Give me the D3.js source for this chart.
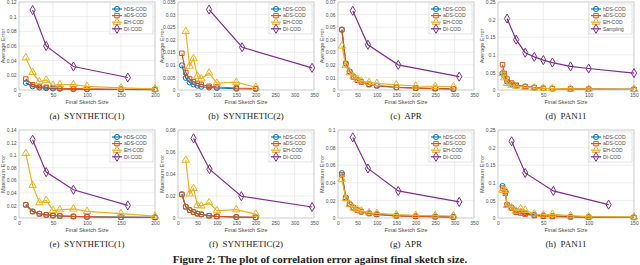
<!DOCTYPE html>
<html>
<head>
<meta charset="utf-8">
<script src="https://cdn.jsdelivr.net/npm/d3@7"></script>
<style>
  body { margin: 0; background: #fff; }
  svg { display: block; }
  .tick text { font-family: "Liberation Sans", Arial, sans-serif; }
</style>
</head>
<body>
<svg id="fig" width="640" height="265"></svg>
<script>
// ---- data ----
const seriesNames = ["hDS-COD", "aDS-COD", "EH-COD", "DI-COD"];
const panD_names = ["hDS-COD", "aDS-COD", "EH-COD", "Sampling"];
const captions = ["(a)  SYNTHETIC(1)", "(b)  SYNTHETIC(2)", "(c)  APR", "(d)  PAN11",
                  "(e)  SYNTHETIC(1)", "(f)  SYNTHETIC(2)", "(g)  APR", "(h)  PAN11"];

// (a) SYNTHETIC(1) average error
const synth1X = [10, 20, 30, 40, 50, 60, 80, 100, 150, 200];
const synth1DiX = [20, 40, 80, 160];
const aHds = [0.0097, 0.005, 0.0033, 0.0025, 0.002, 0.0016, 0.0012, 0.001, 0.0007, 0.0005];
const aAds = [0.015, 0.0073, 0.0047, 0.0036, 0.0029, 0.0024, 0.0019, 0.0015, 0.001, 0.0008];
const aEh  = [0.044, 0.024, 0.0113, 0.0136, 0.0063, 0.0072, 0.0072, 0.005, 0.003, 0.0014];
const aDi  = [0.109, 0.060, 0.032, 0.017];

// (b) SYNTHETIC(2) average error
const synth2X = [10, 20, 30, 40, 50, 60, 80, 100, 150, 200];
const synth2DiX = [80, 165, 345];
const bHds = [0.0098, 0.0048, 0.003, 0.0022, 0.0017, 0.0013, 0.001, 0.0008, 0.0005, 0.0004];
const bAds = [0.0146, 0.007, 0.0044, 0.0033, 0.0026, 0.0022, 0.0015, 0.0012, 0.0008, 0.0006];
const bEh  = [null, 0.0233, 0.0095, 0.0125, 0.0055, 0.0045, 0.0068, 0.0027, 0.0031, 0.0011];
const bDi  = [0.032, 0.017, 0.0088];

// (c) APR average error
const aprX = [10, 20, 30, 40, 50, 60, 80, 100, 150, 200, 250, 297];
const aprDiX = [38, 77, 155, 312];
const cHds = [0.048, 0.021, 0.0148, 0.0105, 0.008, 0.0066, 0.0045, 0.0035, 0.0022, 0.0016, 0.0012, 0.0009];
const cAds = [0.048, 0.021, 0.0145, 0.0102, 0.0077, 0.0063, 0.0043, 0.0034, 0.002, 0.0015, 0.0011, 0.0008];
const cEh  = [0.035, 0.0195, 0.0137, 0.0106, 0.0085, 0.0071, 0.006, 0.0053, 0.004, 0.0032, 0.0029, 0.0026];
const cDi  = [0.063, 0.036, 0.020, 0.0106];

// (d) PAN11 average error
const panX = [5, 7, 10, 15, 20, 30, 40, 50, 60, 80, 100, 150];
const panSampX = [10, 20, 30, 40, 50, 60, 80, 100, 150];
const dHds = [0.048, 0.04, 0.024, 0.016, 0.012, 0.009, 0.007, 0.005, 0.004, 0.003, 0.0025, 0.002];
const dAds = [0.072, 0.047, 0.031, 0.02, 0.014, 0.01, 0.007, 0.005, 0.004, 0.003, 0.0025, 0.0015];
const dEh  = [0.047, 0.035, 0.019, 0.014, 0.011, 0.008, 0.006, 0.005, 0.004, 0.003, 0.0025, 0.002];
const dSamp = [0.203, 0.143, 0.106, 0.094, 0.085, 0.078, 0.067, 0.061, 0.048];

// (e) SYNTHETIC(1) maximum error
const eHds = [0.021, 0.0105, 0.0068, 0.005, 0.004, 0.0033, 0.0025, 0.002, 0.0013, 0.001];
const eAds = [0.021, 0.0103, 0.0066, 0.0049, 0.0039, 0.0032, 0.0024, 0.0019, 0.0012, 0.0009];
const eEh  = [0.1027, 0.052, 0.0245, 0.028, 0.012, 0.013, 0.0144, 0.0106, 0.007, 0.003];
const eDi  = [0.1245, 0.073, 0.045, 0.020];

// (f) SYNTHETIC(2) maximum error
const synth2MaxDiX = [40, 81, 163, 345];
const fHds = [0.0216, 0.0103, 0.0073, 0.0055, 0.004, 0.0033, 0.0021, 0.0015, 0.0009, 0.0006];
const fAds = [0.0214, 0.0101, 0.0071, 0.0053, 0.0039, 0.0032, 0.002, 0.0014, 0.0008, 0.0005];
const fEh  = [null, 0.0526, 0.022, 0.0268, 0.0116, 0.011, 0.014, 0.0067, 0.0076, 0.0036];
const fDi  = [0.0724, 0.0444, 0.0198, 0.010];

// (g) APR maximum error
const gHds = [0.051, 0.0232, 0.016, 0.0118, 0.0091, 0.0072, 0.0053, 0.0042, 0.0027, 0.0019, 0.0015, 0.0011];
const gAds = [0.049, 0.0228, 0.0156, 0.0114, 0.0088, 0.007, 0.0051, 0.004, 0.0025, 0.0018, 0.0014, 0.001];
const gEh  = [0.044, 0.022, 0.0152, 0.0114, 0.0095, 0.008, 0.0061, 0.0053, 0.0038, 0.003, 0.0027, 0.0023];
const gDi  = [0.0916, 0.0563, 0.0308, 0.0183];

// (h) PAN11 maximum error
const panMaxX = [5, 8, 10, 15, 20, 25, 30, 40, 50, 60, 80, 100, 150];
const panMaxDiX = [15, 30, 61, 122];
const hHds = [0.091, 0.075, 0.038, 0.03, 0.02, 0.018, 0.014, 0.009, 0.007, 0.006, 0.004, 0.003, 0.002];
const hAds = [0.085, 0.07, 0.037, 0.028, 0.016, 0.014, 0.011, 0.007, 0.005, 0.004, 0.003, 0.002, 0.0015];
const hEh  = [0.079, 0.079, 0.036, 0.029, 0.02, 0.0266, 0.022, 0.012, 0.0085, 0.0105, 0.0067, 0.0038, 0.0029];
const hDi  = [0.218, 0.128, 0.077, 0.038];

// axis ticks
const yTicksA = [0, 0.02, 0.04, 0.06, 0.08, 0.1, 0.12];
const yTicksB = [0, 0.005, 0.01, 0.015, 0.02, 0.025, 0.03, 0.035];
const yTicksC = [0, 0.01, 0.02, 0.03, 0.04, 0.05, 0.06, 0.07];
const yTicksD = [0, 0.05, 0.1, 0.15, 0.2, 0.25];
const yTicksE = [0, 0.02, 0.04, 0.06, 0.08, 0.1, 0.12, 0.14];
const yTicksF = [0, 0.02, 0.04, 0.06, 0.08];
const yTicksG = [0, 0.02, 0.04, 0.06, 0.08, 0.1];
const xTicks200 = [0, 50, 100, 150, 200];
const xTicks350 = [0, 50, 100, 150, 200, 250, 300, 350];
const xTicks150 = [0, 50, 100, 150];

const colors = ["#0072BD", "#D95319", "#EDB120", "#7E2F8E"];
const symbols = [d3.symbolCircle, d3.symbolSquare, d3.symbolTriangle, d3.symbolDiamond];
const symSizes = [20, 20, 24, 24];

// build panel table from the arrays
const zip = (xs, ys) => xs.map((x, i) => [x, ys[i]]).filter(p => p[1] != null);
const panels = [
  { yLabel: "Average Error", xMax: 200, xTicks: xTicks200, yTicks: yTicksA, names: seriesNames,
    series: [zip(synth1X, aHds), zip(synth1X, aAds), zip(synth1X, aEh), zip(synth1DiX, aDi)] },
  { yLabel: "Average Error", xMax: 350, xTicks: xTicks350, yTicks: yTicksB, names: seriesNames,
    series: [zip(synth2X, bHds), zip(synth2X, bAds), zip(synth2X, bEh), zip(synth2DiX, bDi)] },
  { yLabel: "Average Error", xMax: 350, xTicks: xTicks350, yTicks: yTicksC, names: seriesNames,
    series: [zip(aprX, cHds), zip(aprX, cAds), zip(aprX, cEh), zip(aprDiX, cDi)] },
  { yLabel: "Average Error", xMax: 150, xTicks: xTicks150, yTicks: yTicksD, names: panD_names,
    series: [zip(panX, dHds), zip(panX, dAds), zip(panX, dEh), zip(panSampX, dSamp)] },
  { yLabel: "Maximum Error", xMax: 200, xTicks: xTicks200, yTicks: yTicksE, names: seriesNames,
    series: [zip(synth1X, eHds), zip(synth1X, eAds), zip(synth1X, eEh), zip(synth1DiX, eDi)] },
  { yLabel: "Maximum Error", xMax: 350, xTicks: xTicks350, yTicks: yTicksF, names: seriesNames,
    series: [zip(synth2X, fHds), zip(synth2X, fAds), zip(synth2X, fEh), zip(synth2MaxDiX, fDi)] },
  { yLabel: "Maximum Error", xMax: 350, xTicks: xTicks350, yTicks: yTicksG, names: seriesNames,
    series: [zip(aprX, gHds), zip(aprX, gAds), zip(aprX, gEh), zip(aprDiX, gDi)] },
  { yLabel: "Maximum Error", xMax: 150, xTicks: xTicks150, yTicks: yTicksD, names: seriesNames,
    series: [zip(panMaxX, hHds), zip(panMaxX, hAds), zip(panMaxX, hEh), zip(panMaxDiX, hDi)] }
];

// layout
const lefts = [19, 178, 338, 498];
const tops = [2, 130];
const plotW = 136, plotH = 88;

const svg = d3.select("#fig");
const fmt = d => d === 0 ? "0" : d3.format("~g")(d);

panels.forEach((p, k) => {
  const col = k % 4, row = Math.floor(k / 4);
  const g = svg.append("g").attr("transform", `translate(${lefts[col]},${tops[row]})`);

  const x = d3.scaleLinear().domain([0, p.xMax]).range([0, plotW]);
  const y = d3.scaleLinear().domain([0, d3.max(p.yTicks)]).range([plotH, 0]);

  // grid
  g.append("g").selectAll("line").data(p.xTicks).join("line")
    .attr("x1", d => x(d)).attr("x2", d => x(d)).attr("y1", 0).attr("y2", plotH)
    .attr("stroke", "#e3e3e3").attr("stroke-width", 0.6);
  g.append("g").selectAll("line").data(p.yTicks).join("line")
    .attr("y1", d => y(d)).attr("y2", d => y(d)).attr("x1", 0).attr("x2", plotW)
    .attr("stroke", "#e3e3e3").attr("stroke-width", 0.6);

  // axes
  const xAxis = g.append("g").attr("transform", `translate(0,${plotH})`)
    .call(d3.axisBottom(x).tickValues(p.xTicks).tickSize(0).tickPadding(3.5).tickFormat(d3.format("d")));
  const yAxis = g.append("g")
    .call(d3.axisLeft(y).tickValues(p.yTicks).tickSize(0).tickPadding(2.5).tickFormat(fmt));
  [xAxis, yAxis].forEach(a => {
    a.select(".domain").remove();
    a.selectAll("text").attr("font-size", 5).attr("fill", "#4d4d4d");
  });

  // box
  g.append("rect").attr("width", plotW).attr("height", plotH)
    .attr("fill", "none").attr("stroke", "#bdbdbd").attr("stroke-width", 0.6);

  // labels
  g.append("text").attr("x", plotW / 2).attr("y", plotH + 13.5)
    .attr("text-anchor", "middle").attr("font-family", "Liberation Sans, Arial, sans-serif")
    .attr("font-size", 5.6).attr("fill", "#4d4d4d").text("Final Sketch Size");
  g.append("text").attr("transform", `translate(-14.5,${plotH / 2}) rotate(-90)`)
    .attr("text-anchor", "middle").attr("font-family", "Liberation Sans, Arial, sans-serif")
    .attr("font-size", 5.6).attr("fill", "#4d4d4d").text(p.yLabel);
  g.append("text").attr("x", plotW / 2).attr("y", plotH + 28.5)
    .attr("text-anchor", "middle").attr("font-family", "Liberation Serif, Times New Roman, serif")
    .attr("font-size", 9).attr("fill", "#222").attr("xml:space", "preserve").text(captions[k]);

  // series
  const line = d3.line().x(d => x(d[0])).y(d => y(d[1]));
  p.series.forEach((s, i) => {
    g.append("path").datum(s).attr("d", line)
      .attr("fill", "none").attr("stroke", colors[i]).attr("stroke-width", 1.2);
    g.append("g").selectAll("path").data(s).join("path")
      .attr("transform", d => `translate(${x(d[0])},${y(d[1])})`)
      .attr("d", d3.symbol().type(symbols[i]).size(symSizes[i]))
      .attr("fill", "none").attr("stroke", colors[i]).attr("stroke-width", 1);
  });

  // legend
  const lg = g.append("g").attr("transform", `translate(${plotW - 45},2)`);
  lg.append("rect").attr("width", 43).attr("height", 30)
    .attr("fill", "#fff").attr("stroke", "#cfcfcf").attr("stroke-width", 0.6);
  p.names.forEach((nm, i) => {
    const yy = 5 + i * 6.6;
    lg.append("line").attr("x1", 2).attr("x2", 12).attr("y1", yy).attr("y2", yy)
      .attr("stroke", colors[i]).attr("stroke-width", 1.2);
    lg.append("path").attr("transform", `translate(7,${yy})`)
      .attr("d", d3.symbol().type(symbols[i]).size(symSizes[i]))
      .attr("fill", "none").attr("stroke", colors[i]).attr("stroke-width", 1);
    lg.append("text").attr("x", 14).attr("y", yy + 1.8)
      .attr("font-family", "Liberation Sans, Arial, sans-serif").attr("font-size", 5)
      .attr("fill", "#4d4d4d").text(nm);
  });
});

// figure caption (sits at the very bottom edge, as in the source)
svg.append("text").attr("x", 320).attr("y", 263)
  .attr("text-anchor", "middle").attr("font-family", "Liberation Serif, Times New Roman, serif")
  .attr("font-weight", "bold").attr("font-size", 11).attr("fill", "#222")
  .text("Figure 2: The plot of correlation error against final sketch size.");
</script>
</body>
</html>
